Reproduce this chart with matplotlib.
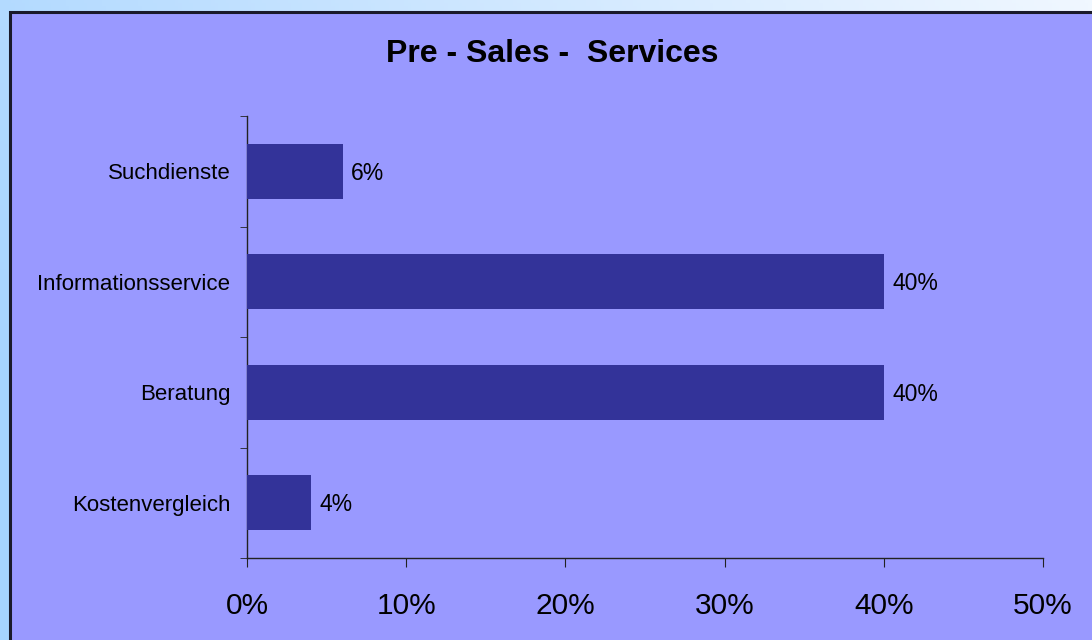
import matplotlib
matplotlib.use("Agg")
import matplotlib.pyplot as plt
import numpy as np
from matplotlib.patches import Rectangle
from matplotlib.colors import LinearSegmentedColormap

categories = ["Kostenvergleich", "Beratung", "Informationsservice", "Suchdienste"]
values = [4, 40, 40, 6]
xticks = [0, 10, 20, 30, 40, 50]
xticklabels = ["0%", "10%", "20%", "30%", "40%", "50%"]
title = "Pre - Sales -  Services"

plt.rcParams['font.family'] = ['Liberation Sans', 'DejaVu Sans']

fig = plt.figure(figsize=(10.92, 6.4), dpi=100)

# gradient background
bg = fig.add_axes([0, 0, 1, 1], zorder=-10)
xx, yy = np.meshgrid(np.linspace(0, 1, 300), np.linspace(0, 1, 200))
grad = np.clip(0.8 * xx + 0.3 * yy - 0.12, 0, 1)
cmap = LinearSegmentedColormap.from_list("bgc", ["#A6D4FF", "#F0F7FF"])
bg.imshow(grad, cmap=cmap, origin="lower", aspect="auto", extent=[0, 1, 0, 1])
bg.set_axis_off()

# panel
panel = Rectangle((10 / 1092, -0.1), 1.2, 0.1 + 1 - 12 / 640, transform=fig.transFigure,
                  facecolor="#9999FF", edgecolor="#1a1a2a", linewidth=2.2, zorder=-5)
fig.patches.append(panel)

ax = fig.add_axes([247 / 1092, 1 - 558 / 640, (1043 - 247) / 1092, (558 - 116) / 640])
ax.set_facecolor("none")
pos = np.arange(len(categories))
bars = ax.barh(pos, values, height=0.5, color="#333399", zorder=3)
ax.set_xlim(0, 50)
ax.set_ylim(-0.5, len(categories) - 0.5)

for spine in ["top", "right"]:
    ax.spines[spine].set_visible(False)
for spine in ["left", "bottom"]:
    ax.spines[spine].set_color("#222222")
    ax.spines[spine].set_linewidth(1.0)

ax.set_yticks(pos)
ax.set_yticklabels(categories, fontsize=16)
ax.tick_params(axis="y", which="major", length=0, pad=12)
ax.set_yticks(np.arange(-0.5, len(categories), 1.0), minor=True)
ax.tick_params(axis="y", which="minor", length=5, direction="out", color="#222222")

ax.set_xticks(xticks)
ax.set_xticklabels(xticklabels, fontsize=21.5)
ax.tick_params(axis="x", length=6.5, direction="out", pad=18, color="#222222")

for p, v in zip(pos, values):
    ax.text(v + 0.55, p - 0.02, f"{v}%", va="center", ha="left", fontsize=16.5)

fig.text(552 / 1092, 1 - 54 / 640, title, ha="center", va="center",
         fontsize=23, fontweight="bold")

fig.savefig("out.png", dpi=100)
